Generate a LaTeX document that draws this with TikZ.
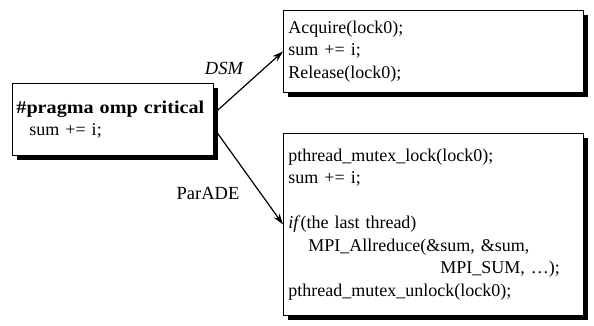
\documentclass[tikz,border=0pt]{standalone}
\usepackage{fontspec}
\setmainfont{Liberation Serif}
\newfontface\pragmafont{Liberation Serif Bold}[FakeStretch=1.12]
\usetikzlibrary{shadows,arrows.meta,calc}

\tikzset{
  codebox/.style={draw, line width=0.9pt, fill=white, anchor=north west,
    align=left, inner xsep=5pt, inner ysep=0pt,
    drop shadow={shadow xshift=5pt, shadow yshift=-5pt, fill=black, opacity=1}},
  codefont/.style={font=\fontsize{18}{22.5}\selectfont},
  flow/.style={line width=1.2pt, -{Stealth[length=11pt,width=7pt]}},
  tag/.style={font=\fontsize{18.5}{22}\selectfont}
}

\begin{document}
\begin{tikzpicture}[x=1pt,y=-1pt]
  \useasboundingbox (0,0) rectangle (594,326);

  % OpenMP critical section
  \node[codebox, codefont, minimum width=201pt, minimum height=72pt,
        text width=193pt, inner xsep=4pt] (omp) at (12,83)
    {{\pragmafont\#pragma omp critical}\\
     \hspace*{13pt}sum += i;};

  % DSM translation
  \node[codebox, codefont, minimum width=300pt, minimum height=82pt,
        text width=290pt] (dsm) at (283,10)
    {Acquire(lock0);\\
     sum += i;\\
     Release(lock0);};

  % ParADE translation
  \node[codebox, codefont, minimum width=300pt, minimum height=182pt,
        text width=290pt] (parade) at (283,133)
    {pthread\_mutex\_lock(lock0);\\
     sum += i;\\
     \mbox{}\\
     \textit{if}(the last thread)\\
     \hspace*{20pt}MPI\_Allreduce(\&sum, \&sum,\\
     \hspace*{152pt}MPI\_SUM, \ldots);\\
     pthread\_mutex\_unlock(lock0);};

  % translation arrows
  \draw[flow] ($(omp.north east)!0.42!(omp.south east)$) -- ($(dsm.north west)!0.5!(dsm.south west)$);
  \draw[flow] ($(omp.north east)!0.62!(omp.south east)$) -- ($(parade.north west)!0.5!(parade.south west)$);

  \node[tag, font=\fontsize{18.5}{22}\selectfont\itshape] (dsmlabel) at (224,68) {DSM};
  \node[tag] (paradelabel) at (208,193) {ParADE};
\end{tikzpicture}
\end{document}
